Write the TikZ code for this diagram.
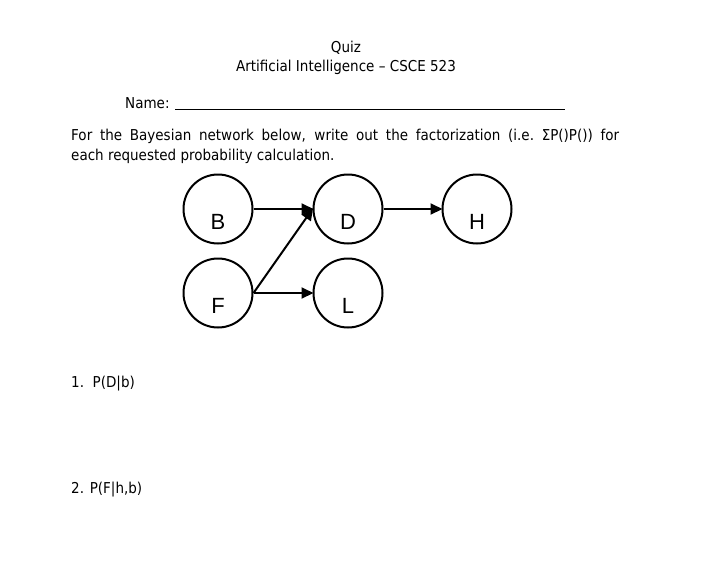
\documentclass[tikz,border=0pt]{standalone}
\usepackage{fontspec}
\setmainfont{DejaVu Sans}[FakeStretch=0.9]
\newfontfamily\nodefont{Liberation Sans}
\usepackage{tikz}
\usetikzlibrary{arrows.meta,positioning}
\tikzset{
  txt/.style={inner sep=0pt, font=\fontsize{15}{20}\selectfont},
  var/.style={draw, circle, line width=2pt, minimum size=69pt, inner sep=0pt},
  lbl/.style={inner sep=0pt, font=\nodefont\fontsize{22}{22}\selectfont},
  arr/.style={-{Triangle[length=12pt,width=11pt]}, line width=2pt, shorten >=-1pt},
}

\begin{document}
\begin{tikzpicture}[x=1pt, y=-1pt]
\useasboundingbox[fill=white] (0,0) rectangle (707,560);
% header
\node[txt] (quiz) at (346,48) {Quiz};
\node[txt] (course) at (346,67) {Artificial Intelligence -- CSCE 523};
\node[txt, anchor=base west] (name) at (125,108) {Name:};
\coordinate (ul1) at (175,109);
\coordinate (ul2) at (565,109);
\draw[line width=1pt] (ul1) -- (ul2);
\node[txt, anchor=north west, text width=548pt, align=justify] (intro) at (71,129)
  {\hyphenpenalty=10000 For the Bayesian network below, write out the factorization (i.e.\ ΣP()P()) for\linebreak each requested probability calculation.};
% network
\node[var] (B) at (218,209) {};
\node[var, right=59pt of B] (D) {};
\node[var, right=58pt of D] (H) {};
\node[var, below=13pt of B] (F) {};
\node[var, below=13pt of D] (L) {};
\foreach \v in {B,D,H,F,L} \node[lbl] at ([yshift=-13pt]\v.center) {\v};
\foreach \a/\b in {B/D,D/H,F/L,F/D} \draw[arr] (\a.east) -- (\b.west);
% questions
\node[txt, anchor=base west] (q1) at (71,387) {1.\ \ P(D|b)};
\node[txt, anchor=base west] (q2) at (71,493) {2. P(F|h,b)};
\end{tikzpicture}
\end{document}
